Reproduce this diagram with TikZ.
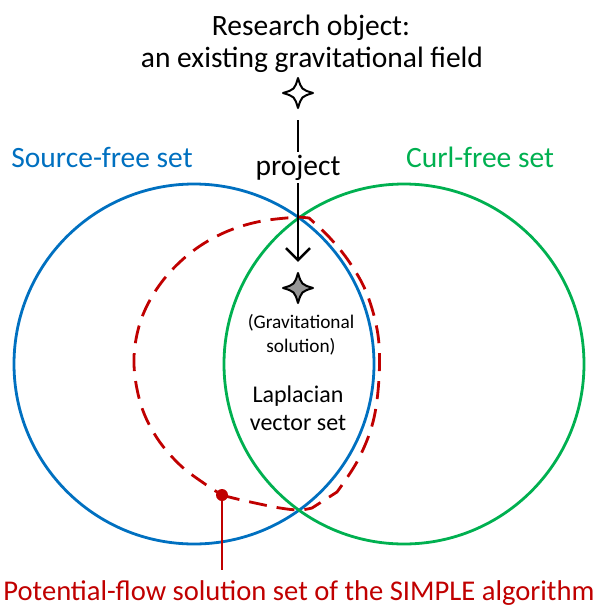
\documentclass[tikz,border=0pt]{standalone}
\usepackage{fontspec}
\setmainfont{Carlito}
\usetikzlibrary{arrows.meta,calc}
\definecolor{cblue}{RGB}{0,112,192}
\definecolor{cgreen}{RGB}{0,176,80}
\definecolor{cred}{RGB}{192,0,0}
\definecolor{cgray}{RGB}{150,150,150}
\begin{document}
\begin{tikzpicture}[x=1pt,y=-1pt,
  lbl/.style={anchor=base, font=\fontsize{29.5}{34}\selectfont, inner sep=0pt},
  midlbl/.style={anchor=base, font=\fontsize{24}{28}\selectfont, inner sep=0pt},
  smalllbl/.style={anchor=base, font=\fontsize{19.3}{23}\selectfont, inner sep=0pt},
  setcircle/.style={circle, line width=2.8pt, minimum size=360pt, inner sep=0pt},
  starnode/.style={minimum size=30pt, inner sep=0pt},
  starline/.style={draw=black, line width=2pt, line join=round},
  reddash/.style={draw=cred, line width=2.8pt, dash pattern=on 18pt off 10pt},
  blackline/.style={draw=black, line width=2.5pt}]
\useasboundingbox (0,0) rectangle (601,611);

% set circles
\node[setcircle, draw=cblue] (src) at (194,364) {};
\node[setcircle, draw=cgreen] (curl) at (404,364) {};

% labels
\node[lbl] (title1) at (311,35) {Research object:};
\node[lbl] (title2) at (312,67) {an existing gravitational field};
\node[lbl, text=cblue] (srclbl) at (102,167) {Source-free set};
\node[lbl, text=cgreen] (curllbl) at (480,167) {Curl-free set};
\node[smalllbl] (grav1) at (301,328) {(Gravitational};
\node[smalllbl] (grav2) at (301,352) {solution)};
\node[midlbl] (lap1) at (298,402) {Laplacian};
\node[midlbl] (lap2) at (298,430) {vector set};

% red dashed potential-flow set
\draw[reddash] plot[smooth, tension=0.6] coordinates {(222,495) (233,498) (255,503) (280,508) (299,510) (312,508)}
  -- plot[smooth, tension=0.6] coordinates {(337,492) (358,460) (373,422) (379,378) (378,335) (367,294) (350,263) (330,238) (309,218)}
  -- plot[smooth, tension=0.6] coordinates {(299,217) (262,221) (228,231) (197,248) (170,272) (150,300) (138,330) (134,365) (141,405) (157,438) (180,465) (205,484) (222,495)};

% red dot and pointer
\node[circle, fill=cred, minimum size=12pt, inner sep=0pt] (dot) at (222,495) {};
\node[anchor=base, font=\fontsize{28.6}{33}\selectfont, text=cred, inner sep=10pt] (simple) at (299,600) {Potential-flow solution set of the SIMPLE algorithm};
\draw[draw=cred, line width=2.5pt] (dot) -- (dot |- simple.north);

% stars
\node[starnode] (obj) at (298,93) {};
\node[starnode] (sol) at (298,288) {};
\draw[starline, fill=white, shift={(obj.center)}] (15,0) .. controls (3.5,-3.5) .. (0,-15) .. controls (-3.5,-3.5) .. (-15,0) .. controls (-3.5,3.5) .. (0,15) .. controls (3.5,3.5) .. (15,0) -- cycle;
\draw[starline, fill=cgray, shift={(sol.center)}] (15,0) .. controls (3.5,-3.5) .. (0,-15) .. controls (-3.5,-3.5) .. (-15,0) .. controls (-3.5,3.5) .. (0,15) .. controls (3.5,3.5) .. (15,0) -- cycle;

% projection arrow
\node[lbl, inner sep=3pt] (proj) at (298,175) {project};
\draw[blackline, shorten <=12pt] (obj) -- (proj);
\draw[blackline, -{Straight Barb[length=12pt,width=24pt]}, shorten >=11pt] (proj) -- (sol);
\end{tikzpicture}
\end{document}
